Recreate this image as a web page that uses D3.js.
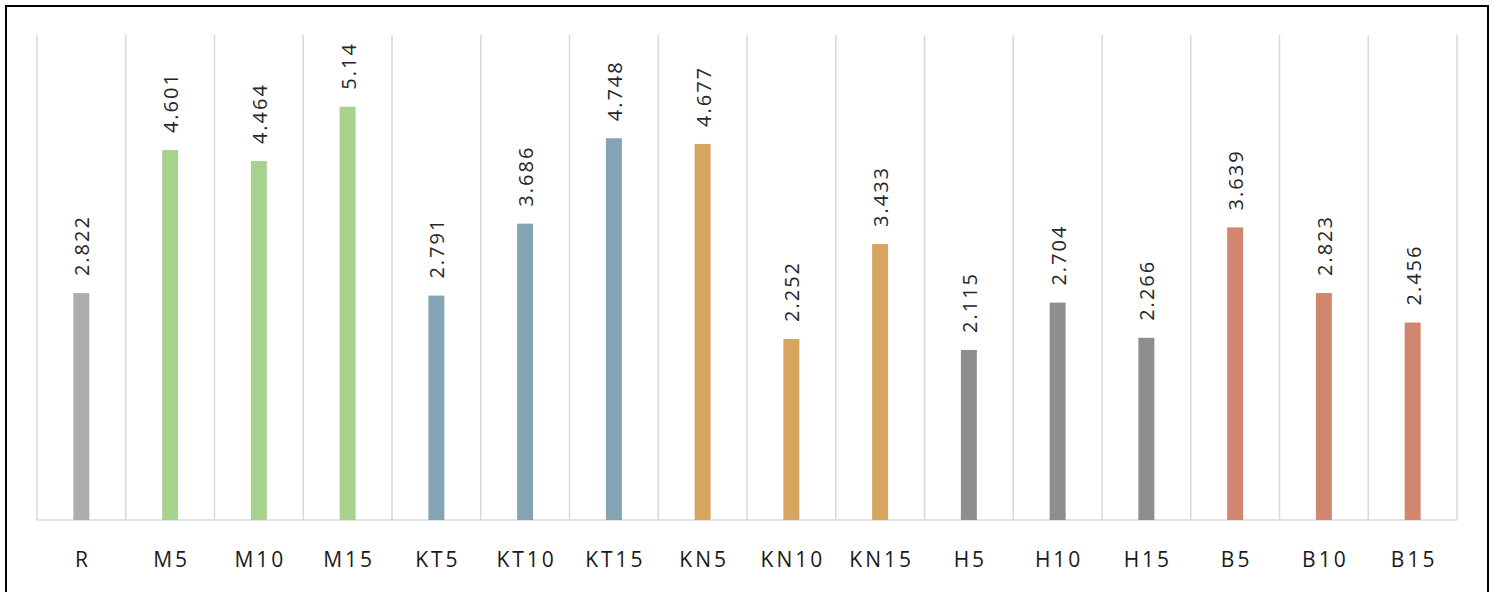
<!DOCTYPE html>
<html>
<head>
<meta charset="utf-8">
<script src="https://cdn.jsdelivr.net/npm/d3@7"></script>
<style>
  html, body { margin: 0; padding: 0; background: #fff; }
  svg { display: block; }
</style>
</head>
<body>
<svg id="chart" width="1496" height="592"></svg>
<script>
// Sample labels, their groups and measured values
const categories = ["R", "M5", "M10", "M15", "KT5", "KT10", "KT15", "KN5", "KN10", "KN15", "H5", "H10", "H15", "B5", "B10", "B15"];
const groups = ["R", "M", "M", "M", "KT", "KT", "KT", "KN", "KN", "KN", "H", "H", "H", "B", "B", "B"];
const values = [2.822, 4.601, 4.464, 5.14, 2.791, 3.686, 4.748, 4.677, 2.252, 3.433, 2.115, 2.704, 2.266, 3.639, 2.823, 2.456];
const valueLabels = ["2.822", "4.601", "4.464", "5.14", "2.791", "3.686", "4.748", "4.677", "2.252", "3.433", "2.115", "2.704", "2.266", "3.639", "2.823", "2.456"];
const groupNames = ["R", "M", "KT", "KN", "H", "B"];
const groupColors = ["#adadad", "#a9d18e", "#84a3b5", "#d6a55f", "#8e8e8e", "#d0866f"];

const data = categories.map((c, i) => ({ cat: c, group: groups[i], value: values[i], label: valueLabels[i] }));

const svg = d3.select("#chart");
const plot = { left: 37, right: 1457, top: 35, bottom: 520 };

const x = d3.scaleBand().domain(categories).range([plot.left, plot.right]).padding(0);
const y = d3.scaleLinear().domain([0, 6]).range([plot.bottom, plot.bottom - 6 * 80.4]);
const color = d3.scaleOrdinal().domain(groupNames).range(groupColors);
const barW = x.bandwidth() * 0.18;

// Outer frame
svg.append("rect")
  .attr("x", 6).attr("y", 6)
  .attr("width", 1482).attr("height", 600)
  .attr("fill", "none").attr("stroke", "#000").attr("stroke-width", 2);

// Vertical separators between categories
const bounds = categories.map(c => x(c)).concat([plot.right]);
svg.append("g").selectAll("line").data(bounds).join("line")
  .attr("x1", d => d).attr("x2", d => d)
  .attr("y1", plot.top).attr("y2", plot.bottom)
  .attr("stroke", "#d9d9d9").attr("stroke-width", 1.5);

// Baseline
svg.append("line")
  .attr("x1", plot.left).attr("x2", plot.right)
  .attr("y1", plot.bottom).attr("y2", plot.bottom)
  .attr("stroke", "#d9d9d9").attr("stroke-width", 1.5);

// Bars
svg.append("g").selectAll("rect").data(data).join("rect")
  .attr("x", d => x(d.cat) + x.bandwidth() / 2 - barW / 2)
  .attr("width", barW)
  .attr("y", d => y(d.value))
  .attr("height", d => y(0) - y(d.value))
  .attr("fill", d => color(d.group));

// Value labels, rotated above each bar
svg.append("g").selectAll("text").data(data).join("text")
  .attr("transform", d => `translate(${x(d.cat) + x.bandwidth() / 2 + 8},${y(d.value) - 17}) rotate(-90)`)
  .attr("text-anchor", "start")
  .attr("font-family", "'Open Sans', sans-serif")
  .attr("font-size", 20)
  .attr("letter-spacing", 2)
  .attr("fill", "#262626")
  .text(d => d.label);

// Category axis
const xAxis = svg.append("g")
  .attr("transform", `translate(0,${plot.bottom})`)
  .call(d3.axisBottom(x).tickSize(0).tickPadding(0));
xAxis.select(".domain").remove();
xAxis.selectAll("text")
  .attr("y", 47)
  .attr("dy", 0)
  .attr("dx", 1.5)
  .attr("font-family", "'Open Sans', sans-serif")
  .attr("font-size", 21)
  .attr("letter-spacing", 3)
  .attr("fill", "#1a1a1a");
</script>
</body>
</html>
